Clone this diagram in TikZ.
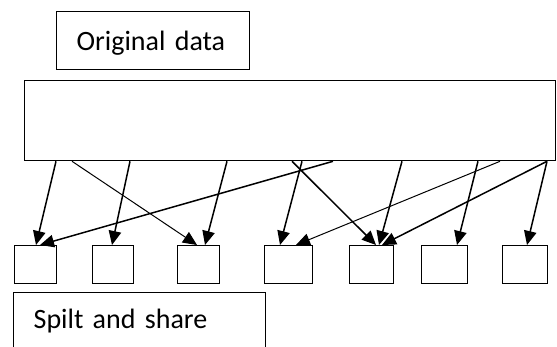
\documentclass[tikz,border=0pt]{standalone}
\usepackage{fontspec}
\setmainfont{Carlito}
\usepackage{tikz}
\usetikzlibrary{arrows.meta}

\tikzset{
  box/.style={draw, line width=1.3pt, rectangle, inner sep=0pt},
  label box/.style={box, anchor=north west, font=\fontsize{28}{33}\selectfont,
    align=left, inner xsep=20pt},
  part/.style={box, anchor=north west, minimum height=38pt},
  thick arr/.style={-{Triangle[length=14pt,width=12.5pt]}, line width=1.5pt},
  thin arr/.style={-{Triangle[length=14pt,width=12.5pt]}, line width=1pt}
}

\begin{document}
\begin{tikzpicture}[x=1pt, y=-1pt]
\useasboundingbox (0,0) rectangle (557,347);

% titel und datenblock
\node[label box, text width=153pt, text height=27pt, text depth=7pt, inner ysep=12pt]
  (orig) at (56,11) {Original data};
\node[box, anchor=north west, minimum width=531pt, minimum height=80pt] (data) at (24,80) {};

% die sieben teile
\foreach \i/\l/\r in {1/14/56, 2/92/133, 3/177/219, 4/264/312,
                      5/349/393, 6/421/467, 7/502/547}
{
  \node[part, minimum width={(\r-\l)*1pt}] (part\i) at (\l,245) {};
}

% verteilung: start x / ziel / end x / stil
\foreach \sx/\t/\ex/\st in {56/1/36/thick, 72/3/197/thin, 130/2/112/thick,
    227/3/205/thick, 333/1/40/thick, 292/5/376/thick, 302/4/280/thick,
    402/5/379/thick, 478/6/457/thick, 500/4/296/thin, 547/5/382/thick,
    547/7/527/thick}
{
  \draw[\st\space arr] (\sx,0 |- data.south) -- (\ex,0 |- part\t.north);
}

% unterer block, laeuft unten aus dem bild
\node[label box, text width=212pt, text height=20pt, text depth=60pt, inner ysep=16pt]
  (share) at (13,292) {Spilt and share};

\end{tikzpicture}
\end{document}
